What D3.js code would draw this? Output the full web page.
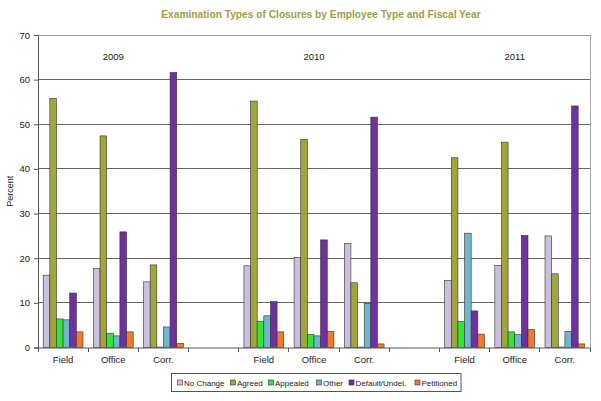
<!DOCTYPE html>
<html><head><meta charset="utf-8">
<script src="https://cdn.jsdelivr.net/npm/d3@7/dist/d3.min.js"></script>
<style>body{margin:0;background:#fff;} svg{display:block;font-family:"Liberation Sans",Arial,sans-serif;}</style>
</head><body><svg id="c" width="601" height="401"></svg>
<script>
const years = ["2009","2010","2011"];
const employeeTypes = ["Field","Office","Corr."];
const seriesNames = ["No Change","Agreed","Appealed","Other","Default/Undel.","Petitioned"];
const seriesColors = ["#cbbfe0","#a0a63a","#33e633","#6fb7cf","#7030a0","#f47a2a"];
// values per year, per employee type, per series
const noChange  = [[16.2,17.7,14.7],[18.3,20.2,23.3],[15.0,18.4,25.0]];
const agreed    = [[55.8,47.4,18.5],[55.2,46.6,14.5],[42.5,46.0,16.5]];
const appealed  = [[6.4,3.2,0.1],[5.9,2.9,0.1],[5.8,3.5,0.1]];
const other     = [[6.2,2.6,4.6],[7.1,2.6,9.9],[25.6,2.9,3.6]];
const defaultUndel = [[12.2,25.9,61.6],[10.3,24.1,51.6],[8.2,25.1,54.1]];
const petitioned = [[3.5,3.5,0.9],[3.5,3.6,0.8],[3.0,4.0,0.8]];
const yTicks = [0,10,20,30,40,50,60,70];
const series = [noChange,agreed,appealed,other,defaultUndel,petitioned];

// category slots: 3 types per year with an empty slot between years
const slots = [];
years.forEach((y,yi)=>{
  employeeTypes.forEach((t,ti)=>slots.push({key:y+"-"+t,year:y,yi,type:t,ti}));
  if(yi<years.length-1) slots.push({key:"gap"+yi,gap:true});
});

const svg = d3.select("#c");
const m = {l:38,r:11,t:35,b:53.5};
const W = 601, H = 401;
const x0 = d3.scaleBand().domain(slots.map(s=>s.key)).range([m.l,W-m.r]).padding(0);
const x1 = d3.scaleBand().domain(seriesNames).range([5.2,x0.bandwidth()-5.2]).padding(0);
const y = d3.scaleLinear().domain([0,70]).range([H-m.b,m.t]);

// gridlines
svg.append("g").selectAll("line").data(yTicks.filter(d=>d>0)).join("line")
  .attr("x1",m.l).attr("x2",W-m.r)
  .attr("y1",d=>y(d)).attr("y2",d=>y(d))
  .attr("stroke",d=>d===70?"#9a9a9a":"#666").attr("stroke-width",1).attr("shape-rendering","crispEdges");
// right border
svg.append("line").attr("x1",W-m.r).attr("x2",W-m.r).attr("y1",m.t).attr("y2",y(0))
  .attr("stroke","#aaa").attr("shape-rendering","crispEdges");

// bars
const data = [];
slots.forEach(s=>{ if(s.gap) return;
  seriesNames.forEach((n,si)=>data.push({slot:s.key,name:n,si,v:series[si][s.yi][s.ti]}));
});
svg.append("g").selectAll("rect").data(data).join("rect")
  .attr("x",d=>x0(d.slot)+x1(d.name))
  .attr("width",x1.bandwidth())
  .attr("y",d=>y(d.v))
  .attr("height",d=>y(0)-y(d.v))
  .attr("fill",d=>seriesColors[d.si])
  .attr("stroke","#333").attr("stroke-width",0.6);

// y axis
const ya = svg.append("g").attr("transform",`translate(${m.l},0)`)
  .call(d3.axisLeft(y).tickValues(yTicks).tickSize(4).tickPadding(4));
ya.select(".domain").attr("stroke","#555");
ya.selectAll(".tick line").attr("stroke","#555");
ya.selectAll("text").attr("font-size",9.5).attr("fill","#222").attr("font-family","Liberation Sans, Arial, sans-serif");

// x axis
const xa = svg.append("g").attr("transform",`translate(0,${y(0)})`)
  .call(d3.axisBottom(x0).tickSize(0).tickFormat(k=>{const s=slots.find(z=>z.key===k);return s.gap?"":s.type;}).tickPadding(9));
xa.select(".domain").attr("stroke","#555");
xa.selectAll("text").attr("font-size",9.5).attr("fill","#222").attr("font-family","Liberation Sans, Arial, sans-serif");
// category separators
svg.append("g").selectAll("line").data(slots.map(s=>x0(s.key)).concat([W-m.r])).join("line")
  .attr("x1",d=>d).attr("x2",d=>d).attr("y1",y(0)).attr("y2",y(0)+4)
  .attr("stroke","#555").attr("shape-rendering","crispEdges");

// year labels
svg.append("g").selectAll("text").data(years).join("text")
  .attr("x",(d,i)=>x0(d+"-Office")+x0.bandwidth()/2)
  .attr("y",59.5).attr("text-anchor","middle")
  .attr("font-size",9.5).attr("fill","#222").text(d=>d);

// y axis title
svg.append("text").attr("transform",`translate(13,${(m.t+y(0))/2}) rotate(-90)`)
  .attr("text-anchor","middle").attr("font-size",9).attr("fill","#222").text("Percent");

// title
svg.append("text").attr("x",321).attr("y",18).attr("text-anchor","middle")
  .attr("font-size",10.2).attr("font-weight","bold").attr("fill","#9c9f45")
  .text("Examination Types of Closures by Employee Type and Fiscal Year");

// legend
const lg = svg.append("g");
lg.append("rect").attr("x",171.5).attr("y",373.5).attr("width",289.5).attr("height",18)
  .attr("fill","#fff").attr("stroke","#555");
const itemX = [177.5,230.5,268.5,316.5,349,415];
seriesNames.forEach((n,i)=>{
  const g = lg.append("g").attr("transform",`translate(${itemX[i]},382.5)`);
  g.append("rect").attr("x",0).attr("y",-2.5).attr("width",5).attr("height",5)
    .attr("fill",seriesColors[i]).attr("stroke","#333").attr("stroke-width",0.6);
  g.append("text").attr("x",6.5).attr("y",3).attr("font-size",8).attr("fill","#222").text(n);
});
</script></body></html>
